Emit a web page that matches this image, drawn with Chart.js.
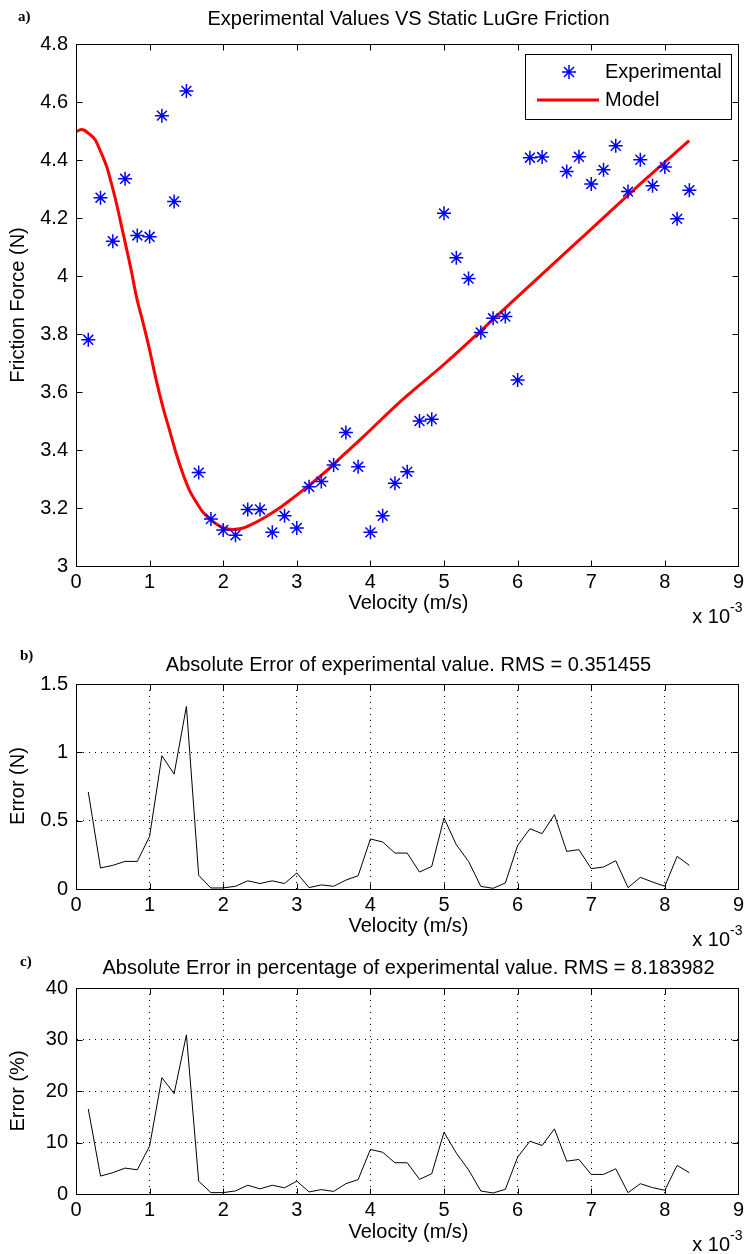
<!DOCTYPE html>
<html><head><meta charset="utf-8">
<script src="https://cdn.jsdelivr.net/npm/chart.js"></script>
<style>
html,body{margin:0;padding:0;background:#fff;width:748px;height:1254px;overflow:hidden}
.wrap{position:absolute;left:0;width:748px}
canvas{display:block}
</style></head><body>
<div class="wrap" style="top:0;height:640px"><canvas id="ca"></canvas></div>
<div class="wrap" style="top:640px;height:315px"><canvas id="cb"></canvas></div>
<div class="wrap" style="top:955px;height:299px"><canvas id="cc"></canvas></div>
<script>
// ---- data (velocity in units of 1e-3 m/s) ----
const velocity = [0.167,0.333,0.5,0.667,0.833,1.0,1.167,1.333,1.5,1.667,1.833,2.0,2.167,2.333,2.5,2.667,2.833,3.0,3.167,3.333,3.5,3.667,3.833,4.0,4.167,4.333,4.5,4.667,4.833,5.0,5.167,5.333,5.5,5.667,5.833,6.0,6.167,6.333,6.5,6.667,6.833,7.0,7.167,7.333,7.5,7.667,7.833,8.0,8.167,8.333];
const experimentalForce = [3.78,4.27,4.12,4.335,4.14,4.135,4.553,4.257,4.638,3.322,3.162,3.124,3.106,3.195,3.195,3.116,3.173,3.131,3.273,3.291,3.348,3.46,3.342,3.116,3.173,3.285,3.325,3.5,3.506,4.216,4.063,3.991,3.805,3.854,3.86,3.641,4.408,4.41,4.59,4.36,4.411,4.317,4.366,4.449,4.291,4.401,4.311,4.376,4.197,4.296];
const modelVelocity = [0,0.08,0.17,0.26,0.35,0.42,0.48,0.55,0.62,0.69,0.75,0.82,0.91,1.0,1.09,1.18,1.27,1.36,1.45,1.54,1.63,1.72,1.86,2.0,2.13,2.26,2.4,2.58,2.76,2.94,3.17,3.39,3.66,3.93,4.38,5.02,5.92,6.82,7.72,8.33];
const modelForce = [4.498,4.505,4.492,4.47,4.42,4.375,4.32,4.25,4.17,4.09,4.02,3.93,3.84,3.745,3.641,3.549,3.469,3.389,3.32,3.262,3.222,3.187,3.153,3.132,3.126,3.13,3.145,3.17,3.199,3.233,3.279,3.325,3.389,3.452,3.561,3.70,3.91,4.12,4.33,4.467];
const absError = [0.71,0.154,0.173,0.202,0.202,0.385,0.975,0.841,1.336,0.10,0.007,0.008,0.02,0.06,0.04,0.06,0.04,0.117,0.01,0.03,0.02,0.065,0.097,0.366,0.344,0.263,0.263,0.124,0.165,0.519,0.324,0.202,0.019,0.005,0.044,0.319,0.441,0.405,0.544,0.275,0.288,0.149,0.161,0.207,0.01,0.085,0.051,0.02,0.239,0.173];
const pctError = [16.5,3.48,4.14,5.03,4.7,9.3,22.6,19.5,30.9,2.5,0.27,0.27,0.6,1.7,1.0,1.7,1.2,2.5,0.4,0.85,0.5,2.0,2.8,8.65,8.1,6.07,6.07,2.84,3.94,12.0,7.94,4.7,0.58,0.2,0.9,7.16,10.25,9.42,12.65,6.38,6.7,3.8,3.8,4.9,0.25,2.0,1.24,0.72,5.55,4.14];
const xTicks = [0,1,2,3,4,5,6,7,8,9];
const yTicksA = [3,3.2,3.4,3.6,3.8,4,4.2,4.4,4.6,4.8];
const yTicksB = [0,0.5,1,1.5];
const yTicksC = [0,10,20,30,40];
const titles = ['Experimental Values VS Static LuGre Friction','Absolute Error of experimental value. RMS = 0.351455','Absolute Error in percentage of experimental value. RMS = 8.183982'];
const yLabels = ['Friction Force (N)','Error (N)','Error (%)'];
const xLabel = 'Velocity (m/s)';
const legendLabels = ['Experimental','Model'];

const FONT = "'Liberation Sans', Arial, sans-serif";
const SERIF = "'Liberation Serif', 'Times New Roman', serif";
Chart.defaults.font.family = FONT;
Chart.defaults.font.size = 20;
Chart.defaults.color = '#000';
Chart.defaults.animation = false;

const fmt = v => String(+(+v).toFixed(2));

function scales(yT, xH, grid) {
  const g = grid ? {display:true, color:'#000', lineWidth:1, drawTicks:false} : {display:false, drawTicks:false};
  const b = {display:true, color:'#000', width:1, dash: grid ? [1,5] : []};
  return {
    x: {type:'linear', min:xTicks[0], max:xTicks[xTicks.length-1],
        afterBuildTicks: s => { s.ticks = xTicks.map(v=>({value:v})); },
        ticks:{padding:4, callback: fmt, maxRotation:0, autoSkip:false},
        grid:g, border:b, afterFit: s => { s.height = xH; }},
    y: {type:'linear', min:yT[0], max:yT[yT.length-1],
        afterBuildTicks: s => { s.ticks = yT.map(v=>({value:v})); },
        ticks:{padding:8, callback: fmt, autoSkip:false},
        grid:g, border:b, afterFit: s => { s.width = 76; }}
  };
}

function drawText(ctx, t) {
  ctx.save();
  ctx.font = t.font || ('20px ' + FONT);
  ctx.fillStyle = '#000';
  ctx.textAlign = t.align || 'center';
  ctx.textBaseline = 'middle';
  ctx.translate(t.x, t.y);
  if (t.rot) ctx.rotate(t.rot);
  ctx.fillText(t.text, 0, 0);
  ctx.restore();
}

const framePlugin = {
  id: 'frame',
  afterDraw(chart, args, opts) {
    const {ctx, chartArea: a, scales: {x, y}} = chart;
    ctx.save();
    ctx.strokeStyle = '#000'; ctx.lineWidth = 1;
    const L = Math.round(a.left)+0.5, R = Math.round(a.right)+0.5, T = Math.round(a.top)+0.5, B = Math.round(a.bottom)+0.5;
    ctx.strokeRect(L, T, R-L, B-T);
    const tl = 6;
    ctx.beginPath();
    x.ticks.forEach(t => { const p = Math.round(x.getPixelForValue(t.value))+0.5; ctx.moveTo(p,B); ctx.lineTo(p,B-tl); ctx.moveTo(p,T); ctx.lineTo(p,T+tl); });
    y.ticks.forEach(t => { const p = Math.round(y.getPixelForValue(t.value))+0.5; ctx.moveTo(L,p); ctx.lineTo(L+tl,p); ctx.moveTo(R,p); ctx.lineTo(R-tl,p); });
    ctx.stroke();
    ctx.restore();
    (opts.texts || []).forEach(t => drawText(ctx, t));
    (opts.sup || []).forEach(s => {
      drawText(ctx, {text:s.base, x:s.x, y:s.y, align:'right'});
      drawText(ctx, {text:s.exp, x:s.x, y:s.y-9, align:'left', font:'14px '+FONT});
    });
  }
};

const legendPlugin = {
  id: 'boxLegend',
  afterDatasetsDraw(chart, args, opts) {
    if (!opts.show) return;
    const ctx = chart.ctx;
    ctx.save();
    ctx.fillStyle = '#fff'; ctx.strokeStyle = '#000'; ctx.lineWidth = 1;
    ctx.fillRect(525.5, 54.5, 206, 65);
    ctx.strokeRect(525.5, 54.5, 206, 65);
    const ds0 = chart.data.datasets[0];
    ctx.strokeStyle = ds0.borderColor; ctx.lineWidth = 1.5;
    ctx.beginPath();
    ctx.moveTo(562,72); ctx.lineTo(576,72); ctx.moveTo(569,65); ctx.lineTo(569,79);
    const d = 5; ctx.moveTo(569-d,72-d); ctx.lineTo(569+d,72+d); ctx.moveTo(569-d,72+d); ctx.lineTo(569+d,72-d);
    ctx.stroke();
    ctx.strokeStyle = '#ff0000'; ctx.lineWidth = 3;
    ctx.beginPath(); ctx.moveTo(537,100); ctx.lineTo(599,100); ctx.stroke();
    ctx.restore();
    drawText(ctx, {text:legendLabels[0], x:605, y:72, align:'left'});
    drawText(ctx, {text:legendLabels[1], x:605, y:100, align:'left'});
  }
};

// ---- Chart a ----
new Chart(document.getElementById('ca'), {
  type: 'scatter',
  data: { datasets: [
    { label: legendLabels[0], data: velocity.map((v,i)=>({x:v, y:experimentalForce[i]})),
      showLine:false, pointStyle:'star', pointRadius:7, pointBorderWidth:1.5,
      borderColor:'#0000ff', backgroundColor:'#0000ff', pointHoverRadius:7 },
    { label: legendLabels[1], data: modelVelocity.map((v,i)=>({x:v, y:modelForce[i]})),
      showLine:true, pointRadius:0, borderColor:'#ff0000', borderWidth:3,
      cubicInterpolationMode:'monotone', fill:false }
  ]},
  options: {
    responsive:true, maintainAspectRatio:false,
    layout:{padding:{left:0, right:7, top:44, bottom:0}},
    scales: scales(yTicksA, 74, false),
    plugins: {
      legend:{display:false}, tooltip:{enabled:false},
      boxLegend:{show:true},
      frame:{
        texts:[
          {text:'a)', x:18, y:17, align:'left', font:'bold 15px '+SERIF},
          {text:titles[0], x:408.5, y:19},
          {text:yLabels[0], x:18, y:305, rot:-Math.PI/2},
          {text:xLabel, x:408.5, y:603}
        ],
        sup:[{base:'x 10', exp:'-3', x:730, y:617}]
      }
    }
  },
  plugins:[legendPlugin, framePlugin]
});

// ---- Chart b ----
new Chart(document.getElementById('cb'), {
  type: 'scatter',
  data: { datasets: [
    { label:'abs', data: velocity.map((v,i)=>({x:v, y:absError[i]})),
      showLine:true, pointRadius:0, borderColor:'#000', borderWidth:1, tension:0, fill:false }
  ]},
  options: {
    responsive:true, maintainAspectRatio:false,
    layout:{padding:{left:0, right:7, top:44, bottom:0}},
    scales: scales(yTicksB, 66, true),
    plugins: {
      legend:{display:false}, tooltip:{enabled:false},
      frame:{
        texts:[
          {text:'b)', x:20, y:16, align:'left', font:'bold 15px '+SERIF},
          {text:titles[1], x:408.5, y:25},
          {text:yLabels[1], x:18, y:146, rot:-Math.PI/2},
          {text:xLabel, x:408.5, y:286}
        ],
        sup:[{base:'x 10', exp:'-3', x:730, y:300}]
      }
    }
  },
  plugins:[framePlugin]
});

// ---- Chart c ----
new Chart(document.getElementById('cc'), {
  type: 'scatter',
  data: { datasets: [
    { label:'pct', data: velocity.map((v,i)=>({x:v, y:pctError[i]})),
      showLine:true, pointRadius:0, borderColor:'#000', borderWidth:1, tension:0, fill:false }
  ]},
  options: {
    responsive:true, maintainAspectRatio:false,
    layout:{padding:{left:0, right:7, top:33, bottom:0}},
    scales: scales(yTicksC, 60, true),
    plugins: {
      legend:{display:false}, tooltip:{enabled:false},
      frame:{
        texts:[
          {text:'c)', x:20, y:7, align:'left', font:'bold 15px '+SERIF},
          {text:titles[2], x:408.5, y:13},
          {text:yLabels[2], x:18, y:136, rot:-Math.PI/2},
          {text:xLabel, x:408.5, y:277}
        ],
        sup:[{base:'x 10', exp:'-3', x:730, y:290}]
      }
    }
  },
  plugins:[framePlugin]
});
</script>
</body></html>
